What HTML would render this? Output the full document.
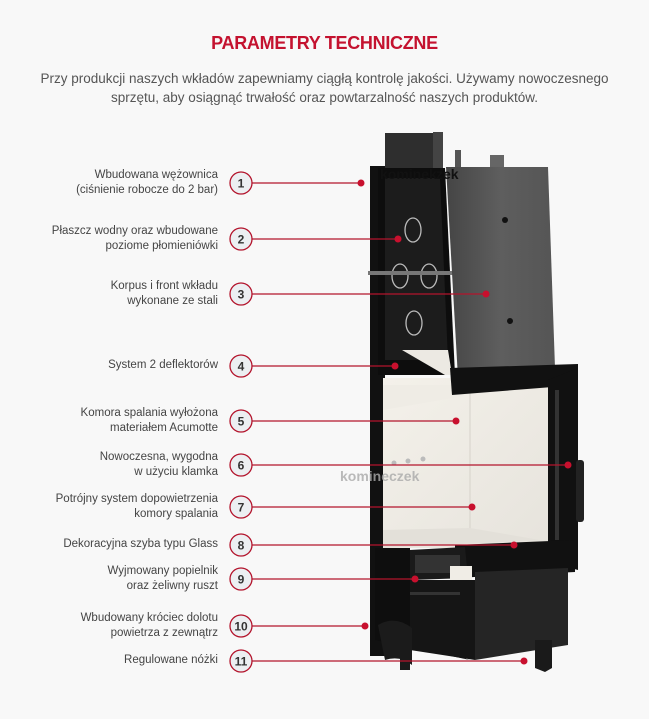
<!DOCTYPE html>
<html><head><meta charset="utf-8"><style>
html,body{margin:0;padding:0;background:#f8f8f8;}
body{width:649px;height:719px;position:relative;overflow:hidden;font-family:"Liberation Sans",sans-serif;}
h1{position:absolute;top:33px;left:0;width:649px;margin:0;text-align:center;font-size:18px;font-weight:bold;color:#c4122f;letter-spacing:-0.3px;}
.desc{position:absolute;top:69px;left:0;width:649px;text-align:center;font-size:13.5px;line-height:19px;color:#555;}
.lbl{position:absolute;right:431px;text-align:right;font-size:11.5px;line-height:15px;color:#444;white-space:nowrap;}
svg{position:absolute;left:0;top:0;}
</style></head><body>
<h1>PARAMETRY TECHNICZNE</h1>
<div class="desc">Przy produkcji naszych wkładów zapewniamy ciągłą kontrolę jakości. Używamy nowoczesnego<br>sprzętu, aby osiągnąć trwałość oraz powtarzalność naszych produktów.</div>

<svg width="649" height="719" viewBox="0 0 649 719">
<defs>
<linearGradient id="side" x1="0" y1="0" x2="1" y2="0"><stop offset="0" stop-color="#454545"/><stop offset="0.5" stop-color="#5e5e5e"/><stop offset="1" stop-color="#555"/></linearGradient>
<linearGradient id="fire" x1="0" y1="0" x2="1" y2="1"><stop offset="0" stop-color="#f4f1ea"/><stop offset="1" stop-color="#e6e3dc"/></linearGradient>
</defs>
<rect x="385" y="133" width="52" height="40" fill="#2e2e2e"/>
<rect x="433" y="132" width="10" height="40" fill="#444"/>
<rect x="455" y="150" width="6" height="22" fill="#555"/>
<rect x="490" y="155" width="14" height="14" fill="#666"/>
<rect x="370" y="166" width="15" height="490" fill="#111"/>
<polygon points="378,168 445,168 455,375 378,375" fill="#0d0d0d"/>
<polygon points="385,178 440,178 448,360 385,360" fill="#1c1c1c"/>
<ellipse cx="413" cy="230" rx="8" ry="12" fill="none" stroke="#bbb" stroke-width="1.3"/>
<ellipse cx="400" cy="276" rx="8" ry="12" fill="none" stroke="#bbb" stroke-width="1.3"/>
<ellipse cx="429" cy="276" rx="8" ry="12" fill="none" stroke="#bbb" stroke-width="1.3"/>
<ellipse cx="414" cy="323" rx="8" ry="12" fill="none" stroke="#bbb" stroke-width="1.3"/>
<rect x="368" y="271" width="88" height="4" fill="#777"/>
<polygon points="446,167 548,167 555,368 458,378" fill="url(#side)"/>
<circle cx="505" cy="220" r="3" fill="#111"/><circle cx="510" cy="321" r="3" fill="#111"/>
<rect x="383" y="378" width="170" height="170" fill="url(#fire)"/>
<line x1="470" y1="385" x2="470" y2="530" stroke="#d6d2ca" stroke-width="1"/>
<polygon points="383,385 450,385 470,395 383,410" fill="#efece5"/>
<polygon points="383,530 470,528 540,540 383,548" fill="#e3e0d9"/>
<circle cx="394" cy="463" r="2.5" fill="#bbb"/><circle cx="408" cy="461" r="2.5" fill="#bbb"/><circle cx="423" cy="459" r="2.5" fill="#bbb"/>
<polygon points="402,350 448,350 452,375 445,375" fill="#ece9e3"/>
<polygon points="450,368 578,364 578,385 452,395" fill="#111"/>
<polygon points="548,380 578,368 578,570 548,562" fill="#111"/>
<rect x="555" y="390" width="4" height="150" fill="#333"/>
<polygon points="455,545 575,540 575,572 455,578" fill="#111"/>
<rect x="576" y="460" width="8" height="62" rx="3" fill="#222"/>
<polygon points="410,550 465,547 468,578 410,580" fill="#1a1a1a"/>
<rect x="415" y="555" width="45" height="18" fill="#333"/>
<rect x="450" y="566" width="22" height="14" fill="#f0ede6"/>
<polygon points="375,548 410,548 410,640 470,660 375,640" fill="#0e0e0e"/>
<polygon points="410,580 475,580 475,660 410,650" fill="#151515"/>
<polygon points="475,572 568,568 568,645 475,660" fill="#252525"/>
<rect x="410" y="592" width="50" height="3" fill="#333"/>
<path d="M378,625 Q395,615 412,628 L412,665 Q400,655 385,660 Z" fill="#1b1b1b"/>
<polygon points="535,640 552,640 552,668 545,672 535,668" fill="#1a1a1a"/>
<rect x="400" y="650" width="10" height="20" fill="#1a1a1a"/>
<text x="380" y="179" font-family="Liberation Sans,sans-serif" font-size="14" font-weight="bold" fill="#111">kominek</text>
<text x="436" y="179" font-family="Liberation Sans,sans-serif" font-size="14" font-weight="bold" fill="#111">zek</text>
<text x="340" y="481" font-family="Liberation Sans,sans-serif" font-size="14" font-weight="bold" fill="#aaa" opacity="0.8">komineczek</text>

<g stroke="#b3142c" stroke-width="1.2" fill="none">
<line x1="252" y1="183" x2="361" y2="183"/><line x1="252" y1="239" x2="398" y2="239"/>
<line x1="252" y1="294" x2="486" y2="294"/><line x1="252" y1="366" x2="395" y2="366"/>
<line x1="252" y1="421" x2="456" y2="421"/><line x1="252" y1="465" x2="568" y2="465"/>
<line x1="252" y1="507" x2="472" y2="507"/><line x1="252" y1="545" x2="514" y2="545"/>
<line x1="252" y1="579" x2="415" y2="579"/><line x1="252" y1="626" x2="365" y2="626"/>
<line x1="252" y1="661" x2="524" y2="661"/>
</g>
<g fill="#c8102e">
<circle cx="361" cy="183" r="3.5"/><circle cx="398" cy="239" r="3.5"/><circle cx="486" cy="294" r="3.5"/>
<circle cx="395" cy="366" r="3.5"/><circle cx="456" cy="421" r="3.5"/><circle cx="568" cy="465" r="3.5"/>
<circle cx="472" cy="507" r="3.5"/><circle cx="514" cy="545" r="3.5"/><circle cx="415" cy="579" r="3.5"/>
<circle cx="365" cy="626" r="3.5"/><circle cx="524" cy="661" r="3.5"/>
</g>
<g stroke="#b3142c" stroke-width="1.3" fill="#eceff2">
<circle cx="241" cy="183" r="11"/><circle cx="241" cy="239" r="11"/><circle cx="241" cy="294" r="11"/>
<circle cx="241" cy="366" r="11"/><circle cx="241" cy="421" r="11"/><circle cx="241" cy="465" r="11"/>
<circle cx="241" cy="507" r="11"/><circle cx="241" cy="545" r="11"/><circle cx="241" cy="579" r="11"/>
<circle cx="241" cy="626" r="11"/><circle cx="241" cy="661" r="11"/>
</g>
<g font-family="Liberation Sans,sans-serif" font-size="12" font-weight="bold" fill="#333" text-anchor="middle">
<text x="241" y="187.5">1</text><text x="241" y="243.5">2</text><text x="241" y="298.5">3</text>
<text x="241" y="370.5">4</text><text x="241" y="425.5">5</text><text x="241" y="469.5">6</text>
<text x="241" y="511.5">7</text><text x="241" y="549.5">8</text><text x="241" y="583.5">9</text>
<text x="241" y="630.5">10</text><text x="241" y="665.5">11</text>
</g>
</svg>

<div class="lbl" style="top:168px">Wbudowana wężownica<br>(ciśnienie robocze do 2 bar)</div>
<div class="lbl" style="top:224px">Płaszcz wodny oraz wbudowane<br>poziome płomieniówki</div>
<div class="lbl" style="top:279px">Korpus i front wkładu<br>wykonane ze stali</div>
<div class="lbl" style="top:358px">System 2 deflektorów</div>
<div class="lbl" style="top:406px">Komora spalania wyłożona<br>materiałem Acumotte</div>
<div class="lbl" style="top:450px">Nowoczesna, wygodna<br>w użyciu klamka</div>
<div class="lbl" style="top:492px">Potrójny system dopowietrzenia<br>komory spalania</div>
<div class="lbl" style="top:537px">Dekoracyjna szyba typu Glass</div>
<div class="lbl" style="top:564px">Wyjmowany popielnik<br>oraz żeliwny ruszt</div>
<div class="lbl" style="top:611px">Wbudowany króciec dolotu<br>powietrza z zewnątrz</div>
<div class="lbl" style="top:653px">Regulowane nóżki</div>
</body></html>
